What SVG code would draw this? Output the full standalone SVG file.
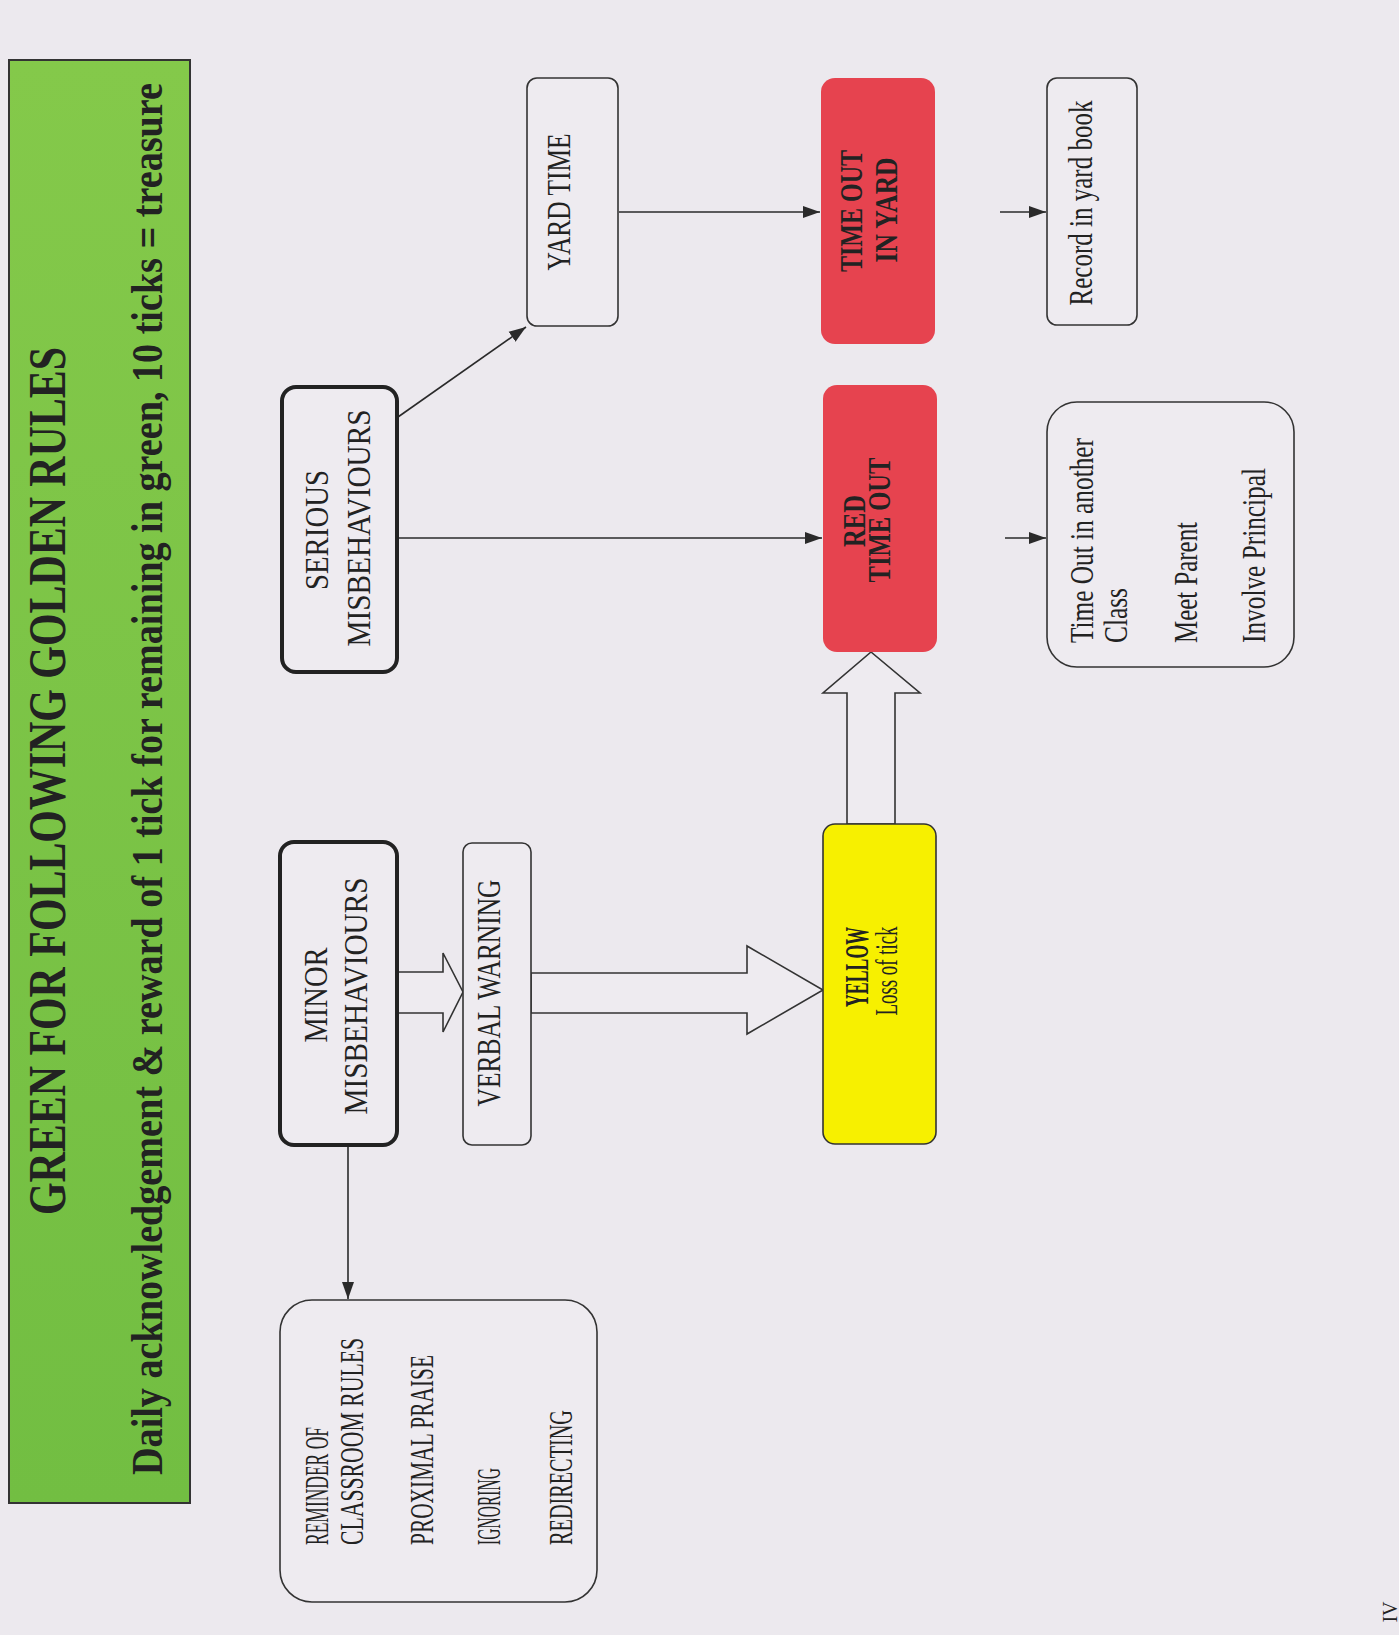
<svg xmlns="http://www.w3.org/2000/svg" width="1399" height="1635" viewBox="0 0 1399 1635">
<defs>
<linearGradient id="gb" x1="0" y1="0" x2="0" y2="1">
<stop offset="0" stop-color="#84c94a"/>
<stop offset="1" stop-color="#72be42"/>
</linearGradient>
<marker id="ah" markerUnits="userSpaceOnUse" markerWidth="18" markerHeight="14" refX="17" refY="7" orient="auto">
<path d="M0,1 L17,7 L0,13 z" fill="#2a2a2a"/>
</marker>
<style>
.t{font-family:"Liberation Serif","Times New Roman",serif;fill:#222;}
.b{font-weight:bold;}
.box{fill:#eeebf0;stroke:#333;stroke-width:1.6;}
.thick{fill:#eeebf0;stroke:#222;stroke-width:4;}
.red{fill:#e6434f;}
.yel{fill:#f7f000;stroke:#333;stroke-width:1.6;}
.ln{stroke:#2a2a2a;stroke-width:1.6;fill:none;}
.blk{fill:#eeebf0;stroke:#333;stroke-width:1.6;}
</style>
</defs>
<rect width="1399" height="1635" fill="#ece9ee"/>

<g id="banner">
<rect x="9" y="60" width="181" height="1443" fill="url(#gb)" stroke="#333" stroke-width="2"/>
<text class="t b" font-size="42" text-anchor="middle" transform="translate(65,781) rotate(-90) scale(1,1.26)" textLength="868" lengthAdjust="spacingAndGlyphs">GREEN FOR FOLLOWING GOLDEN RULES</text>
<text class="t b" font-size="36" text-anchor="middle" transform="translate(162,779) rotate(-90) scale(1,1.22)" textLength="1392" lengthAdjust="spacingAndGlyphs">Daily acknowledgement &amp; reward of 1 tick for remaining in green, 10 ticks = treasure</text>
</g>

<g id="connectors">
<line class="ln" x1="348" y1="1146" x2="348" y2="1299" marker-end="url(#ah)"/>
<line class="ln" x1="398" y1="538" x2="822" y2="538" marker-end="url(#ah)"/>
<line class="ln" x1="398" y1="417" x2="526" y2="327" marker-end="url(#ah)"/>
<line class="ln" x1="619" y1="212" x2="820" y2="212" marker-end="url(#ah)"/>
<line class="ln" x1="1005" y1="538" x2="1046" y2="538" marker-end="url(#ah)"/>
<line class="ln" x1="1000" y1="212" x2="1046" y2="212" marker-end="url(#ah)"/>
<polygon class="blk" points="397,972 443,972 443,953 463,992 443,1032 443,1013 397,1013"/>
<polygon class="blk" points="531,973 747,973 747,946 823,990 747,1034 747,1013 531,1013"/>
<polygon class="blk" points="847,824 847,693 823,693 871,652 920,693 895,693 895,824"/>
</g>

<g id="reminder">
<rect class="box" x="280" y="1300" width="317" height="302" rx="32"/>
<text class="t" font-size="33" transform="translate(328,1545) rotate(-90)" textLength="118" lengthAdjust="spacingAndGlyphs">REMINDER OF</text>
<text class="t" font-size="33" transform="translate(363,1545) rotate(-90)" textLength="207" lengthAdjust="spacingAndGlyphs">CLASSROOM RULES</text>
<text class="t" font-size="33" transform="translate(433,1545) rotate(-90)" textLength="190" lengthAdjust="spacingAndGlyphs">PROXIMAL PRAISE</text>
<text class="t" font-size="33" transform="translate(500,1545) rotate(-90)" textLength="77" lengthAdjust="spacingAndGlyphs">IGNORING</text>
<text class="t" font-size="33" transform="translate(572,1545) rotate(-90)" textLength="135" lengthAdjust="spacingAndGlyphs">REDIRECTING</text>
</g>

<g id="minor">
<rect class="thick" x="280" y="842" width="117" height="303" rx="14"/>
<text class="t" font-size="33" text-anchor="middle" transform="translate(327,995) rotate(-90)" textLength="95" lengthAdjust="spacingAndGlyphs">MINOR</text>
<text class="t" font-size="33" text-anchor="middle" transform="translate(367,996) rotate(-90)" textLength="237" lengthAdjust="spacingAndGlyphs">MISBEHAVIOURS</text>
</g>

<g id="verbal">
<rect class="box" x="463" y="843" width="68" height="302" rx="9"/>
<text class="t" font-size="33" text-anchor="middle" transform="translate(500,993) rotate(-90)" textLength="227" lengthAdjust="spacingAndGlyphs">VERBAL WARNING</text>
</g>

<g id="yellow">
<rect class="yel" x="823" y="824" width="113" height="320" rx="12"/>
<text class="t b" font-size="33" text-anchor="middle" transform="translate(868,967) rotate(-90)" textLength="80" lengthAdjust="spacingAndGlyphs">YELLOW</text>
<text class="t" font-size="32" text-anchor="middle" transform="translate(897,971) rotate(-90)" textLength="89" lengthAdjust="spacingAndGlyphs">Loss of tick</text>
</g>

<g id="serious">
<rect class="thick" x="282" y="387" width="115" height="285" rx="14"/>
<text class="t" font-size="33" text-anchor="middle" transform="translate(328,530) rotate(-90)" textLength="120" lengthAdjust="spacingAndGlyphs">SERIOUS</text>
<text class="t" font-size="33" text-anchor="middle" transform="translate(370,528) rotate(-90)" textLength="237" lengthAdjust="spacingAndGlyphs">MISBEHAVIOURS</text>
</g>

<g id="red-timeout">
<rect class="red" x="823" y="385" width="114" height="267" rx="14"/>
<text class="t b" font-size="31" text-anchor="middle" transform="translate(865,521) rotate(-90)" textLength="52" lengthAdjust="spacingAndGlyphs">RED</text>
<text class="t b" font-size="31" text-anchor="middle" transform="translate(890,520) rotate(-90)" textLength="125" lengthAdjust="spacingAndGlyphs">TIME OUT</text>
</g>

<g id="consequences">
<rect class="box" x="1047" y="402" width="247" height="265" rx="30"/>
<text class="t" font-size="33" transform="translate(1093,643) rotate(-90)" textLength="205" lengthAdjust="spacingAndGlyphs">Time Out in another</text>
<text class="t" font-size="33" transform="translate(1127,643) rotate(-90)" textLength="55" lengthAdjust="spacingAndGlyphs">Class</text>
<text class="t" font-size="33" transform="translate(1197,643) rotate(-90)" textLength="121" lengthAdjust="spacingAndGlyphs">Meet Parent</text>
<text class="t" font-size="33" transform="translate(1265,643) rotate(-90)" textLength="175" lengthAdjust="spacingAndGlyphs">Involve Principal</text>
</g>

<g id="yard-time">
<rect class="box" x="527" y="78" width="91" height="248" rx="10"/>
<text class="t" font-size="33" text-anchor="middle" transform="translate(570,202) rotate(-90)" textLength="137" lengthAdjust="spacingAndGlyphs">YARD TIME</text>
</g>

<g id="timeout-yard">
<rect class="red" x="821" y="78" width="114" height="266" rx="14"/>
<text class="t b" font-size="31" text-anchor="middle" transform="translate(862,211) rotate(-90)" textLength="122" lengthAdjust="spacingAndGlyphs">TIME OUT</text>
<text class="t b" font-size="31" text-anchor="middle" transform="translate(897,210) rotate(-90)" textLength="105" lengthAdjust="spacingAndGlyphs">IN YARD</text>
</g>

<g id="record">
<rect class="box" x="1047" y="78" width="90" height="247" rx="10"/>
<text class="t" font-size="33" text-anchor="middle" transform="translate(1092,203) rotate(-90)" textLength="205" lengthAdjust="spacingAndGlyphs">Record in yard book</text>
</g>

<g id="page-mark">
<text class="t" font-size="20" fill="#555" text-anchor="middle" transform="translate(1397,1612) rotate(-90)">IV</text>
</g>
</svg>
